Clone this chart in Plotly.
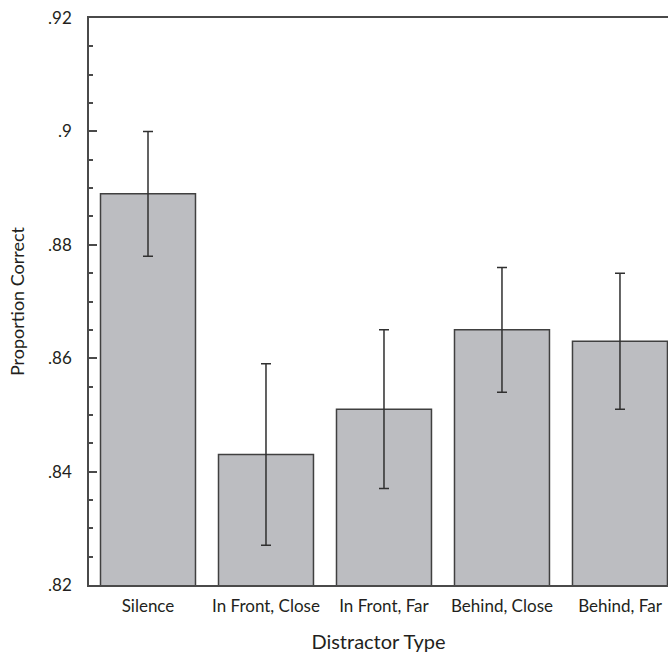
import plotly.graph_objects as go

categories = ["Silence", "In Front, Close", "In Front, Far", "Behind, Close", "Behind, Far"]
proportion_correct = [0.889, 0.843, 0.851, 0.865, 0.863]
error_plus = [0.011, 0.016, 0.014, 0.011, 0.012]
error_minus = [0.011, 0.016, 0.014, 0.011, 0.012]
y_tick_values = [0.82, 0.84, 0.86, 0.88, 0.90, 0.92]
y_tick_labels = [".82", ".84", ".86", ".88", ".9", ".92"]

font_family = "Lato, Open Sans, sans-serif"
axis_color = "#4a4a4a"
text_color = "#231f20"

fig = go.Figure()
fig.add_trace(go.Bar(
    x=categories,
    y=proportion_correct,
    base=0,
    marker=dict(color="#bcbdc1", line=dict(color="#404040", width=1.5)),
    error_y=dict(type="data", symmetric=False, array=error_plus, arrayminus=error_minus,
                 color="#303030", thickness=1.5, width=5),
    showlegend=False,
))

fig.update_layout(
    width=668, height=656,
    margin=dict(l=89, r=0, t=18, b=71),
    paper_bgcolor="white", plot_bgcolor="white",
    bargap=0.195,
    font=dict(family=font_family, size=17, color=text_color),
    xaxis=dict(
        range=[-0.5, 4.407],
        showline=True, linecolor=axis_color, linewidth=1.5, mirror=True,
        ticks="", showgrid=False, zeroline=False,
        tickfont=dict(size=17, color=text_color),
        ticklabelstandoff=5,
        ticklabeloverflow="allow",
        title=dict(text="Distractor Type", font=dict(size=20, color=text_color), standoff=20),
    ),
    yaxis=dict(
        range=[0.82, 0.920002],
        showline=True, linecolor=axis_color, linewidth=1.5, mirror=False,
        showgrid=False, zeroline=False,
        tickvals=y_tick_values, ticktext=y_tick_labels,
        ticks="inside", ticklen=8, tickwidth=1.5, tickcolor=axis_color,
        minor=dict(dtick=0.005, ticks="inside", ticklen=4, tickwidth=1.5, tickcolor=axis_color, showgrid=False),
        tickfont=dict(size=17, color=text_color),
        ticklabelstandoff=12,
        ticklabeloverflow="allow",
        title=dict(text="Proportion Correct", font=dict(size=18, color=text_color), standoff=19),
    ),
)

fig.write_html(
    "out.html",
    config={"displayModeBar": False},
    post_script="document.body.style.margin='0';document.body.style.overflow='hidden';",
)
